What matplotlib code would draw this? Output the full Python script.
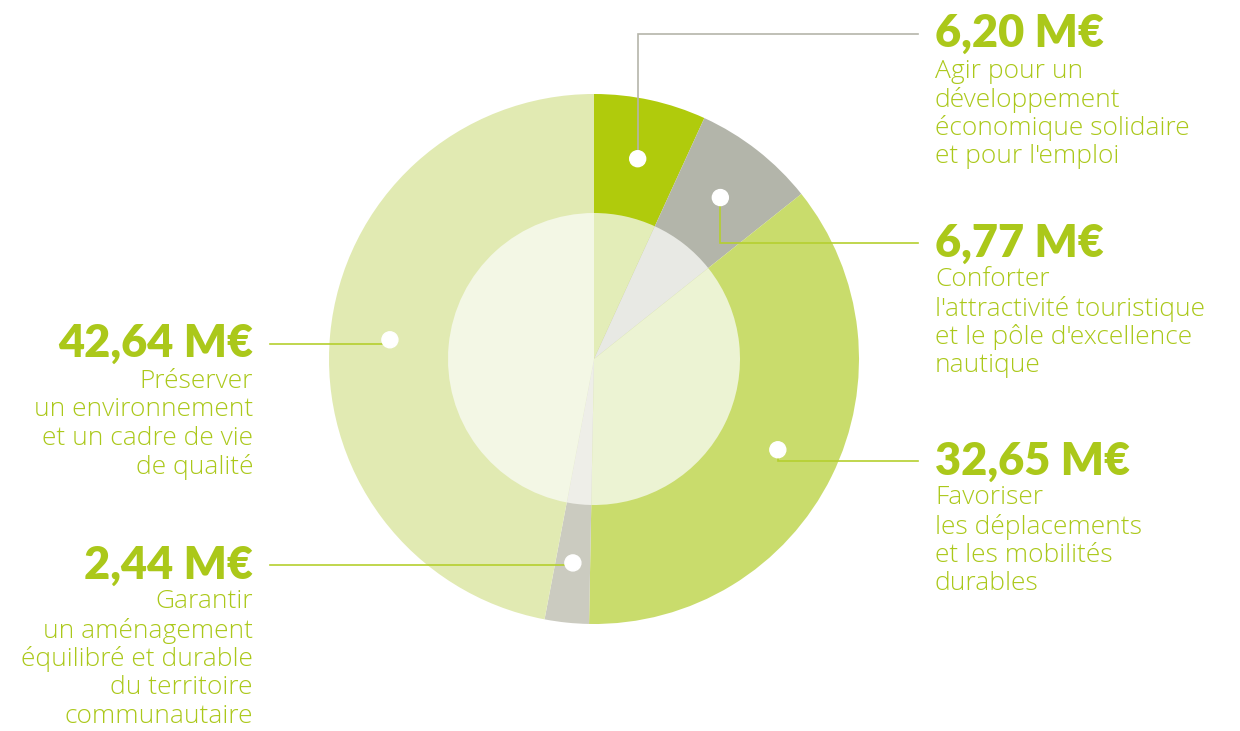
import numpy as np
import matplotlib
matplotlib.use("Agg")
import matplotlib.pyplot as plt
from matplotlib.patches import Circle

# ---- data ----
values = [6.20, 6.77, 32.65, 2.44, 42.64]
value_labels = ["6,20 M€", "6,77 M€", "32,65 M€", "2,44 M€", "42,64 M€"]
descriptions = [
    ["Agir pour un", "développement", "économique solidaire", "et pour l'emploi"],
    ["Conforter", "l'attractivité touristique", "et le pôle d'excellence", "nautique"],
    ["Favoriser", "les déplacements", "et les mobilités", "durables"],
    ["Garantir", "un aménagement", "équilibré et durable", "du territoire", "communautaire"],
    ["Préserver", "un environnement", "et un cadre de vie", "de qualité"],
]
outer_colors = ["#b0cb0c", "#b3b5aa", "#c9dc6c", "#cbcbc0", "#e1eab2"]
inner_colors = ["#e3edb8", "#e8e9e4", "#ecf3d3", "#eeeee8", "#f3f7e5"]
line_colors = ["#b5b5aa", "#b5cf2f", "#b5cf2f", "#b5cf2f", "#b5cf2f"]

TEXT = "#abc81a"
W, H = 1240, 731
fig = plt.figure(figsize=(W / 100, H / 100), dpi=100)
ax = fig.add_axes([0, 0, 1, 1])

def Y(y):
    return H - y

cx, cy = 594, Y(359)
R_out, R_in, R_dot = 265, 146, 205

ax.pie(values, colors=outer_colors, startangle=90, counterclock=False,
       radius=R_out, center=(cx, cy), wedgeprops=dict(linewidth=0), frame=True)
ax.pie(values, colors=inner_colors, startangle=90, counterclock=False,
       radius=R_in, center=(cx, cy), wedgeprops=dict(linewidth=0), frame=True)
ax.set_xlim(0, W)
ax.set_ylim(0, H)
ax.set_aspect("equal")
ax.axis("off")

total = sum(values)
cum = np.cumsum([0] + values)
mid = (cum[:-1] + cum[1:]) / 2 / total * 2 * np.pi  # clockwise from top
dots = [(cx + R_dot * np.sin(a), cy + R_dot * np.cos(a)) for a in mid]

# label anchors: (x, value-center y in px, side)
anchors = [(935, 34, "r"), (935, 243, "r"), (935, 461, "r"), (253, 565, "l"), (253, 344, "l")]
LINE_X_R, LINE_X_L = 918, 270
PITCH = 28.6

for i, (v, (dx, dy)) in enumerate(zip(value_labels, dots)):
    ax_x, ay, side = anchors[i]
    if side == "r":
        ax.plot([dx, dx, LINE_X_R], [dy, Y(ay), Y(ay)], color=line_colors[i], lw=1.2,
                solid_joinstyle="miter", zorder=3)
        ha = "left"
    else:
        ax.plot([LINE_X_L, dx, dx], [Y(ay), Y(ay), dy], color=line_colors[i], lw=1.2, zorder=3)
        ha = "right"
    ax.add_patch(Circle((dx, dy), 8, color="white", zorder=4))
    ax.text(ax_x, Y(ay), v, ha=ha, va="center", fontsize=32.5, fontweight="heavy",
            family="Lato", color=TEXT)
    first = ay + 37
    for k, line in enumerate(descriptions[i]):
        ax.text(ax_x, Y(first + k * PITCH), line, ha=ha, va="center", fontsize=19,
                family="Open Sans", fontweight="light", color=TEXT)

fig.savefig("out.png", dpi=100)
